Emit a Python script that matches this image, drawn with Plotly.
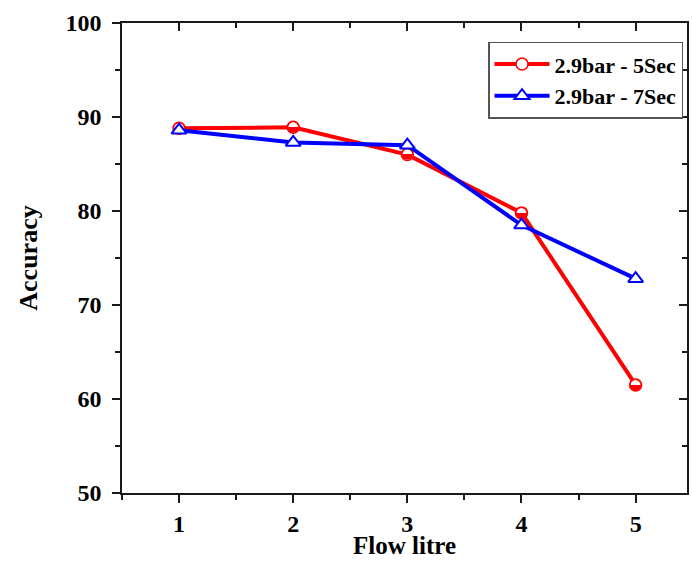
import plotly.graph_objects as go

flow = [1, 2, 3, 4, 5]
acc_5sec = [88.8, 88.9, 86.0, 79.8, 61.5]
acc_7sec = [88.6, 87.3, 87.0, 78.5, 72.8]
names = ["2.9bar - 5Sec", "2.9bar - 7Sec"]
x_title = "Flow litre"
y_title = "Accuracy"

FONT = "Liberation Serif"

fig = go.Figure()
fig.add_trace(go.Scatter(
    x=flow, y=acc_5sec, name="<b>" + names[0] + "</b>", mode="lines+markers",
    line=dict(color="#ff0000", width=4),
    marker=dict(symbol="circle", size=12, color="white",
                line=dict(color="#ff0000", width=1.5)),
))
# half-filled circle glyph on top of the open markers
fig.add_trace(go.Scatter(
    x=flow, y=acc_5sec, mode="text", text=["◒"] * len(flow),
    textposition="middle center",
    textfont=dict(family="DejaVu Sans", size=15, color="#ff0000"),
    showlegend=False, hoverinfo="skip",
))
fig.add_trace(go.Scatter(
    x=flow, y=acc_7sec, name="<b>" + names[1] + "</b>", mode="lines+markers",
    line=dict(color="#0000ff", width=4),
    marker=dict(symbol="triangle-up", size=13, color="white",
                line=dict(color="#0000ff", width=2)),
))
# dummy trace for mirrored axes with inward ticks
fig.add_trace(go.Scatter(x=[flow[0]], y=[acc_5sec[0]], xaxis="x2", yaxis="y2",
                         mode="markers", marker=dict(opacity=0), showlegend=False,
                         hoverinfo="skip"))

tickfont = dict(family=FONT, size=24, color="black", weight="bold")
titlefont = dict(family=FONT, size=26, color="black", weight="bold")
AX = "#1a1a1a"
fig.update_layout(
    width=692, height=561,
    margin=dict(l=122, r=5, t=23, b=68),
    paper_bgcolor="white", plot_bgcolor="white",
    font=dict(family=FONT, color="black"),
    xaxis=dict(range=[0.5, 5.45], tickvals=flow, ticks="outside", ticklen=8,
               tickwidth=1.5, tickcolor=AX, showline=True, linecolor=AX,
               linewidth=1.5, showgrid=False, zeroline=False, automargin=False,
               tickfont=tickfont,
               minor=dict(dtick=0.5, ticks="outside", ticklen=5, tickwidth=1.5,
                          tickcolor=AX, showgrid=False)),
    yaxis=dict(range=[50, 100], dtick=10, ticks="outside", ticklen=8,
               tickwidth=1.5, tickcolor=AX, showline=True, linecolor=AX,
               linewidth=1.5, showgrid=False, zeroline=False, automargin=False,
               tickfont=tickfont, ticklabelstandoff=6,
               minor=dict(dtick=5, ticks="outside", ticklen=5, tickwidth=1.5,
                          tickcolor=AX, showgrid=False),
               title=dict(text=y_title, font=titlefont, standoff=20)),
    xaxis2=dict(range=[0.5, 5.45], overlaying="x", side="top", tickvals=flow,
                ticks="inside", ticklen=8, tickwidth=1.5, tickcolor=AX,
                showline=True, linecolor=AX, linewidth=1.5, showticklabels=False,
                showgrid=False, zeroline=False,
                minor=dict(dtick=0.5, ticks="inside", ticklen=5, tickwidth=1.5,
                           tickcolor=AX, showgrid=False)),
    yaxis2=dict(range=[50, 100], overlaying="y", side="right", dtick=10,
                ticks="inside", ticklen=8, tickwidth=1.5, tickcolor=AX,
                showline=True, linecolor=AX, linewidth=1.5, showticklabels=False,
                showgrid=False, zeroline=False,
                minor=dict(dtick=5, ticks="inside", ticklen=5, tickwidth=1.5,
                           tickcolor=AX, showgrid=False)),
    legend=dict(x=0.993, y=0.96, xanchor="right", yanchor="top",
                bordercolor="#555", borderwidth=1.5, bgcolor="white",
                font=dict(family=FONT, size=22, color="black"),
                tracegroupgap=0, itemwidth=55),
    showlegend=True,
    annotations=[dict(text="<b>" + x_title + "</b>", xref="x domain", yref="paper",
                      x=0.5, y=0, xanchor="center", yanchor="top", yshift=-38,
                      borderpad=0, showarrow=False,
                      font=dict(family=FONT, size=25, color="black"))],
)
fig.write_html("out.html")
